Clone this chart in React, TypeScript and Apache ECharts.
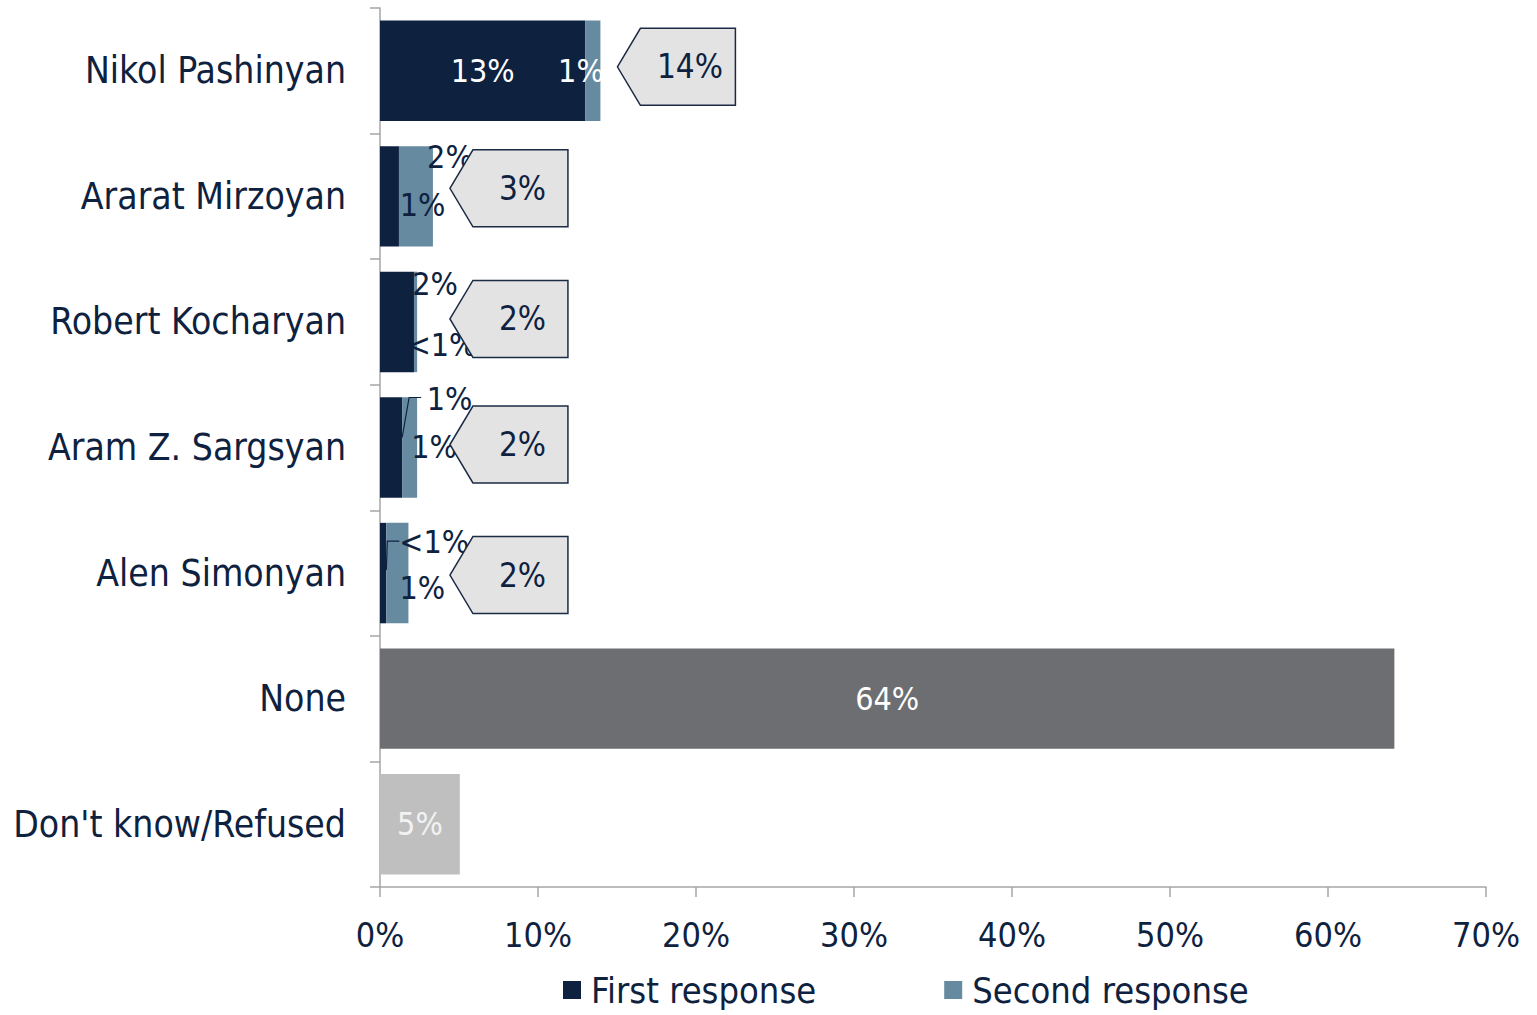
import React, { useEffect, useRef } from "react";
import * as echarts from "echarts";

const categories = [
  "Nikol Pashinyan",
  "Ararat Mirzoyan",
  "Robert Kocharyan",
  "Aram Z. Sargsyan",
  "Alen Simonyan",
  "None",
  "Don't know/Refused",
];
const firstValues = [13.0, 1.2, 2.15, 1.4, 0.4, 64.2, 5.05];
const secondValues: (number | null)[] = [0.95, 2.15, 0.2, 0.95, 1.4, null, null];
const firstLabels = ["13%", "1%", "2%", "1%", "<1%", "64%", "5%"];
const secondLabels = ["1%", "2%", "<1%", "1%", "1%", "", ""];
const totalLabels = ["14%", "3%", "2%", "2%", "2%"];
const xTicks = [0, 10, 20, 30, 40, 50, 60, 70];

const NAVY = "#0e2240";
const STEEL = "#668ba0";
const FONT = 'Tahoma, "DejaVu Sans Condensed", "DejaVu Sans", sans-serif';

// styling per item (not data)
const firstColors = [NAVY, NAVY, NAVY, NAVY, NAVY, "#6d6e71", "#bfbfbf"];
const firstLabelColors = ["#ffffff", NAVY, NAVY, NAVY, NAVY, "#ffffff", "#f2f2f2"];
const firstLabelOffsets = [[0, 0], [33, 9], [38, -38], [43, -1], [51, -31], [0, 0], [0, 0]];
const secondLabelColors = ["#ffffff", NAVY, NAVY, NAVY, NAVY];
const secondLabelOffsets = [[-12, 0], [34, -39], [26, 23], [40, -49], [25, 15]];
const calloutDy = [-4, -8, -3, -3, 2];
const leaderShapes: Record<number, number[][]> = {
  3: [[0, -10], [7, -50], [19, -50]],
  4: [[0, -3], [1, -32], [13, -32]],
};

export default function App() {
  const ref = useRef<HTMLDivElement>(null);
  useEffect(() => {
    if (!ref.current) return;
    const chart = echarts.init(ref.current, undefined, { renderer: "svg" });
    const totals = totalLabels.map((_, i) => firstValues[i] + (secondValues[i] ?? 0));
    const calloutMin = Math.max(...totals.slice(1));
    const calloutData = totals.map((t, i) => [Math.max(t, calloutMin), i]);
    const leaderData = Object.keys(leaderShapes).map((k) => [firstValues[+k], +k]);

    const option: any = {
      animation: false,
      textStyle: { fontFamily: FONT },
      grid: { left: 380, right: 51, top: 8, bottom: 128, containLabel: false },
      legend: {
        top: 968,
        left: 563,
        padding: 0,
        data: ["First response", "Second response"],
        icon: "rect",
        itemWidth: 18,
        itemHeight: 18,
        itemGap: 128,
        textStyle: { fontSize: 36, color: NAVY, fontFamily: FONT, padding: [0, 0, 0, 5], lineHeight: 44 },
      },
      xAxis: {
        type: "value",
        min: 0,
        max: 70,
        interval: 10,
        splitLine: { show: false },
        axisLine: { show: true, lineStyle: { color: "#a6a6a6", width: 1.5 } },
        axisTick: { show: true, length: 10, lineStyle: { color: "#a6a6a6", width: 1.5 } },
        axisLabel: {
          formatter: (v: number) => (xTicks.includes(v) ? v + "%" : ""),
          fontSize: 34,
          color: NAVY,
          margin: 31,
          fontFamily: FONT,
        },
      },
      yAxis: {
        type: "category",
        data: categories,
        inverse: true,
        axisLine: { show: true, lineStyle: { color: "#a6a6a6", width: 1.5 } },
        axisTick: { show: true, length: 10, alignWithLabel: false, lineStyle: { color: "#a6a6a6", width: 1.5 } },
        axisLabel: { fontSize: 37, color: NAVY, margin: 34, fontFamily: FONT },
      },
      series: [
        {
          name: "First response",
          type: "bar",
          stack: "total",
          barCategoryGap: "20%",
          itemStyle: { color: NAVY },
          data: firstValues.map((v, i) => ({
            value: v,
            itemStyle: { color: firstColors[i] },
            label: {
              show: true,
              position: "inside",
              formatter: firstLabels[i],
              color: firstLabelColors[i],
              offset: firstLabelOffsets[i],
              fontSize: 32,
              fontFamily: FONT,
            },
          })),
        },
        {
          name: "Second response",
          type: "bar",
          stack: "total",
          itemStyle: { color: STEEL },
          data: secondValues.map((v, i) =>
            v == null
              ? "-"
              : {
                  value: v,
                  label: {
                    show: true,
                    position: "inside",
                    formatter: secondLabels[i],
                    color: secondLabelColors[i],
                    offset: secondLabelOffsets[i],
                    fontSize: 32,
                    fontFamily: FONT,
                  },
                }
          ),
        },
        {
          type: "custom",
          name: "callouts",
          z: 5,
          encode: { x: 0, y: 1 },
          data: calloutData,
          renderItem: (params: any, api: any) => {
            const p = api.coord([api.value(0), api.value(1)]);
            const x0 = p[0] + 17;
            const cy = p[1] + calloutDy[params.dataIndex];
            const w = 118,
              h = 77,
              tip = 23;
            return {
              type: "group",
              children: [
                {
                  type: "polygon",
                  shape: {
                    points: [
                      [x0, cy],
                      [x0 + tip, cy - h / 2],
                      [x0 + w, cy - h / 2],
                      [x0 + w, cy + h / 2],
                      [x0 + tip, cy + h / 2],
                    ],
                  },
                  style: { fill: "#e3e3e3", stroke: "#1b2b44", lineWidth: 1.5 },
                },
                {
                  type: "text",
                  x: x0 + (tip + w) / 2 + 2,
                  y: cy,
                  style: {
                    text: totalLabels[params.dataIndex],
                    fill: NAVY,
                    fontSize: 33,
                    fontFamily: FONT,
                    align: "center",
                    verticalAlign: "middle",
                  },
                },
              ],
            };
          },
        },
        {
          type: "custom",
          name: "leaders",
          z: 6,
          encode: { x: 0, y: 1 },
          data: leaderData,
          renderItem: (params: any, api: any) => {
            const idx = api.value(1);
            const p = api.coord([api.value(0), idx]);
            const shape = leaderShapes[idx];
            return {
              type: "polyline",
              shape: { points: shape.map((d) => [p[0] + d[0], p[1] + d[1]]) },
              style: { stroke: NAVY, lineWidth: 1.2, fill: null },
            };
          },
        },
      ],
    };
    chart.setOption(option);
    return () => chart.dispose();
  }, []);
  return (
    <div
      ref={ref}
      style={{ position: "fixed", left: 0, top: 0, width: 1537, height: 1015, background: "#fff" }}
    />
  );
}
